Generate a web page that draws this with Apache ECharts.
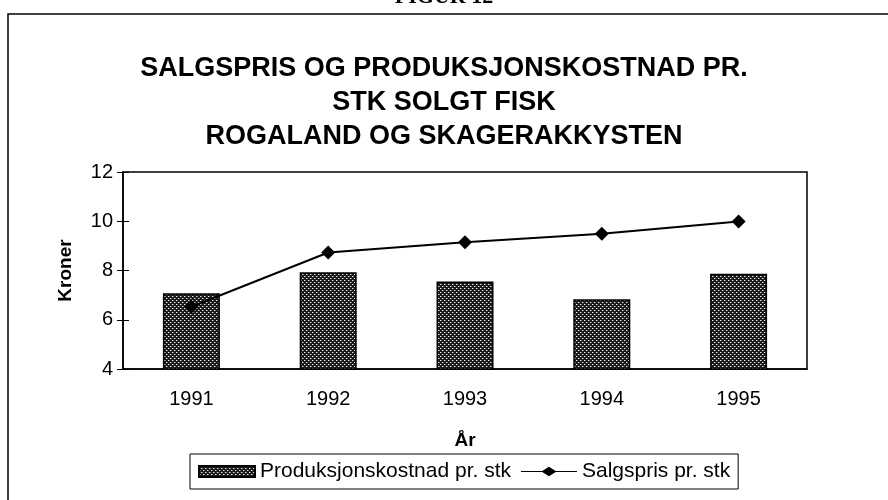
<!DOCTYPE html>
<html lang="no">
<head>
    <meta charset="UTF-8">
    <title>Figur 12</title>
    <script src="https://cdn.jsdelivr.net/npm/echarts@6/dist/echarts.min.js"></script>
    <style>
        html, body { margin: 0; padding: 0; background: #fff; }
        #main { width: 888px; height: 500px; }
    </style>
</head>
<body>
    <div id="main"></div>
    <script>
        // data
        var years = ['1991', '1992', '1993', '1994', '1995'];
        var produksjonskostnad = [7.08, 7.93, 7.55, 6.83, 7.87];
        var salgspris = [6.53, 8.73, 9.15, 9.49, 9.99];
        var yTicks = [4, 6, 8, 10, 12];

        var font = 'Arial, "Liberation Sans", sans-serif';

        // stippled fill like the scanned bars
        function makePattern() {
            var c = document.createElement('canvas');
            c.width = 4;
            c.height = 4;
            var ctx = c.getContext('2d');
            ctx.fillStyle = '#1a1a1a';
            ctx.fillRect(0, 0, 4, 4);
            ctx.fillStyle = '#e8e8e8';
            ctx.fillRect(0, 0, 1, 1);
            ctx.fillRect(2, 2, 1, 1);
            ctx.fillStyle = '#777';
            ctx.fillRect(1, 0, 1, 1);
            ctx.fillRect(3, 2, 1, 1);
            return c;
        }
        var pattern = { image: makePattern(), repeat: 'repeat' };

        var axisLabel = { color: '#000', fontFamily: font, fontSize: 20 };

        // line with a diamond in the middle, for the legend
        var lineIcon = 'path://M0,4.4 H22 L29,0 L36,4.4 H58 V5.6 H36 L29,10 L22,5.6 H0 Z';

        var option = {
            animation: false,
            backgroundColor: '#fff',
            title: {
                text: 'SALGSPRIS OG PRODUKSJONSKOSTNAD PR.\nSTK SOLGT FISK\nROGALAND OG SKAGERAKKYSTEN',
                left: 'center',
                top: 47,
                textStyle: {
                    color: '#000',
                    fontFamily: font,
                    fontWeight: 'bold',
                    fontSize: 27,
                    lineHeight: 34
                }
            },
            graphic: [
                {
                    type: 'rect',
                    shape: { x: 8, y: 14, width: 900, height: 510 },
                    style: { fill: 'none', stroke: '#000', lineWidth: 1.5 },
                    silent: true
                },
                {
                    type: 'text',
                    left: 'center',
                    top: -14,
                    style: {
                        text: 'FIGUR 12',
                        fill: '#000',
                        font: 'bold 22px "Liberation Serif", "Times New Roman", serif'
                    }
                }
            ],
            legend: {
                left: 190,
                top: 454,
                padding: [7, 8, 7, 8],
                borderColor: '#000',
                borderWidth: 1,
                itemWidth: 56,
                itemHeight: 11,
                itemGap: 10,
                textStyle: { color: '#000', fontFamily: font, fontSize: 21 },
                data: [
                    { name: 'Produksjonskostnad pr. stk', icon: 'rect' },
                    { name: 'Salgspris pr. stk', icon: lineIcon }
                ]
            },
            grid: {
                left: 123,
                right: 81,
                top: 172,
                bottom: 131,
                show: true,
                borderColor: '#000',
                borderWidth: 1.5,
                backgroundColor: '#fff'
            },
            xAxis: [
                {
                    type: 'category',
                    data: years,
                    name: 'År',
                    nameLocation: 'middle',
                    nameGap: 62,
                    nameTextStyle: { color: '#000', fontFamily: font, fontSize: 19, fontWeight: 'bold' },
                    axisLine: { lineStyle: { color: '#000', width: 1.5 } },
                    axisTick: { length: 6, lineStyle: { color: '#000' } },
                    axisLabel: Object.assign({ margin: 20 }, axisLabel)
                },
                {
                    type: 'category',
                    data: years,
                    position: 'bottom',
                    axisLine: { show: false },
                    axisTick: { inside: true, length: 6, lineStyle: { color: '#000' } },
                    axisLabel: { show: false }
                }
            ],
            yAxis: [
                {
                    type: 'value',
                    min: yTicks[0],
                    max: yTicks[yTicks.length - 1],
                    interval: 2,
                    name: 'Kroner',
                    nameLocation: 'middle',
                    nameGap: 48,
                    nameTextStyle: { color: '#000', fontFamily: font, fontSize: 19, fontWeight: 'bold' },
                    axisLine: { show: true, lineStyle: { color: '#000', width: 1.5 } },
                    axisTick: { show: true, length: 6, lineStyle: { color: '#000' } },
                    splitLine: { show: false },
                    axisLabel: Object.assign({ margin: 10 }, axisLabel)
                },
                {
                    type: 'value',
                    position: 'left',
                    min: yTicks[0],
                    max: yTicks[yTicks.length - 1],
                    interval: 2,
                    axisLine: { show: false },
                    axisTick: { show: true, inside: true, length: 6, lineStyle: { color: '#000' } },
                    splitLine: { show: false },
                    axisLabel: { show: false }
                }
            ],
            series: [
                {
                    name: 'Produksjonskostnad pr. stk',
                    type: 'bar',
                    data: produksjonskostnad,
                    barWidth: 57,
                    itemStyle: { color: pattern, borderColor: '#000', borderWidth: 1.5 }
                },
                {
                    name: 'Salgspris pr. stk',
                    type: 'line',
                    data: salgspris,
                    symbol: 'diamond',
                    symbolSize: 14,
                    lineStyle: { color: '#000', width: 2 },
                    itemStyle: { color: '#000' },
                    z: 5
                }
            ]
        };

        var myChart = echarts.init(document.getElementById('main'));
        myChart.setOption(option);
    </script>
</body>
</html>
